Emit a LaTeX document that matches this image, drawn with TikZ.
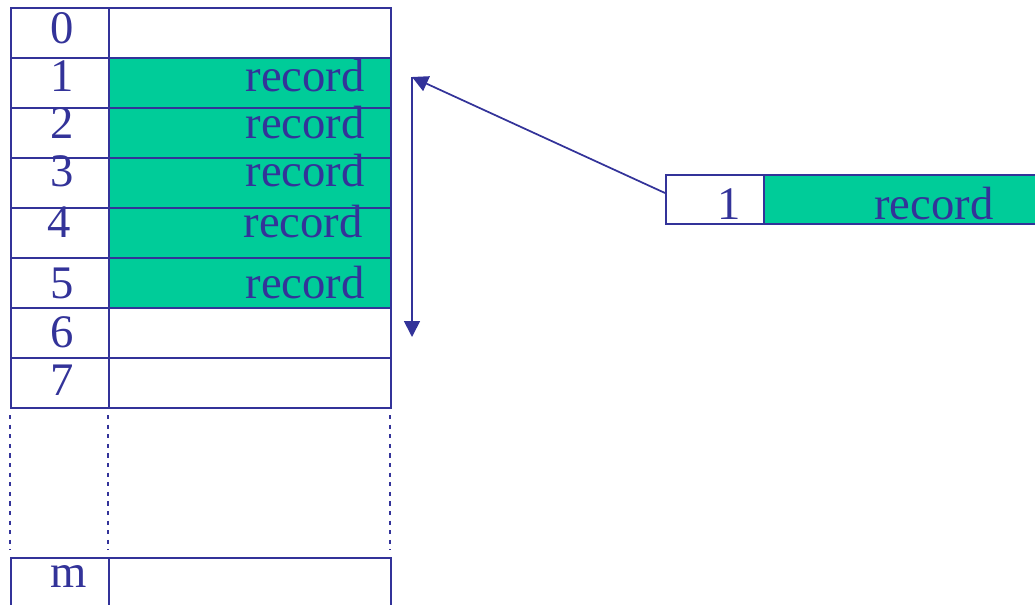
\documentclass[tikz,border=0pt]{standalone}
\usepackage{fontspec}
\setmainfont{Liberation Serif}
\usetikzlibrary{arrows.meta}
\definecolor{ink}{HTML}{333399}
\definecolor{rec}{HTML}{00CC99}
\tikzset{
  cell/.style={draw=ink, line width=1.7pt, inner sep=0pt, anchor=north west,
    minimum height=37.5pt},
  idx/.style={cell, minimum width=73.5pt},
  val/.style={cell, minimum width=211.5pt},
  full/.style={val, fill=rec},
  txt/.style={text=ink, inner sep=0pt, font=\fontsize{35}{40}\selectfont},
  rail/.style={draw=ink, line width=1.7pt, dash pattern=on 3.2pt off 4pt},
  conn/.style={draw=ink, line width=1.3pt, -{Triangle[length=12pt,width=12pt]}}
}
\begin{document}
\begin{tikzpicture}[x=0.75pt, y=-0.75pt]
\useasboundingbox (0,0) rectangle (1035,604);

% table rows 0..7
\node[idx] (i0) at (10,7) {};   \node[val]  (v0) at (108,7) {};
\node[idx] (i1) at (10,57) {};  \node[full] (v1) at (108,57) {};
\node[idx] (i2) at (10,107) {}; \node[full] (v2) at (108,107) {};
\node[idx] (i3) at (10,157) {}; \node[full] (v3) at (108,157) {};
\node[idx] (i4) at (10,207) {}; \node[full] (v4) at (108,207) {};
\node[idx] (i5) at (10,257) {}; \node[full] (v5) at (108,257) {};
\node[idx] (i6) at (10,307) {}; \node[val]  (v6) at (108,307) {};
\node[idx] (i7) at (10,357) {}; \node[val]  (v7) at (108,357) {};
% last row m
\node[idx] (im) at (10,557) {}; \node[val]  (vm) at (108,557) {};

% dashed continuation between row 7 and row m
\path[rail] (10,415) -- (10,550);
\path[rail] (108,415) -- (108,550);
\path[rail] (390,415) -- (390,550);

% index labels
\node[txt, anchor=base] (n0) at (62,43) {0};
\node[txt, anchor=base] (n1) at (62,91) {1};
\node[txt, anchor=base] (n2) at (62,138) {2};
\node[txt, anchor=base] (n3) at (62,186) {3};
\node[txt, anchor=base] (n4) at (59,237) {4};
\node[txt, anchor=base] (n5) at (62,298) {5};
\node[txt, anchor=base] (n6) at (62,347) {6};
\node[txt, anchor=base] (n7) at (62,395) {7};
\node[txt, anchor=base] (nm) at (69,587) {m};

% record labels
\node[txt, anchor=base east] (r1) at (365,91) {record};
\node[txt, anchor=base east] (r2) at (365,138) {record};
\node[txt, anchor=base east] (r3) at (365,186) {record};
\node[txt, anchor=base east] (r4) at (363,237) {record};
\node[txt, anchor=base east] (r5) at (365,298) {record};

% the single record on the right
\node[idx, minimum height=36.75pt] (k) at (665,174) {};
\node[full, minimum height=36.75pt, minimum width=207pt] (kr) at (763,174) {};
\node[txt, anchor=base] (k1) at (729,219) {1};
\node[txt, anchor=base] (krt) at (934,219) {record};

% insertion arrows
\coordinate (src) at (665,193);
\coordinate (top) at (412,77);
\coordinate (bot) at (412,337);
\draw[conn] (src) -- (top);
\draw[conn] (top) -- (bot);
\end{tikzpicture}
\end{document}
